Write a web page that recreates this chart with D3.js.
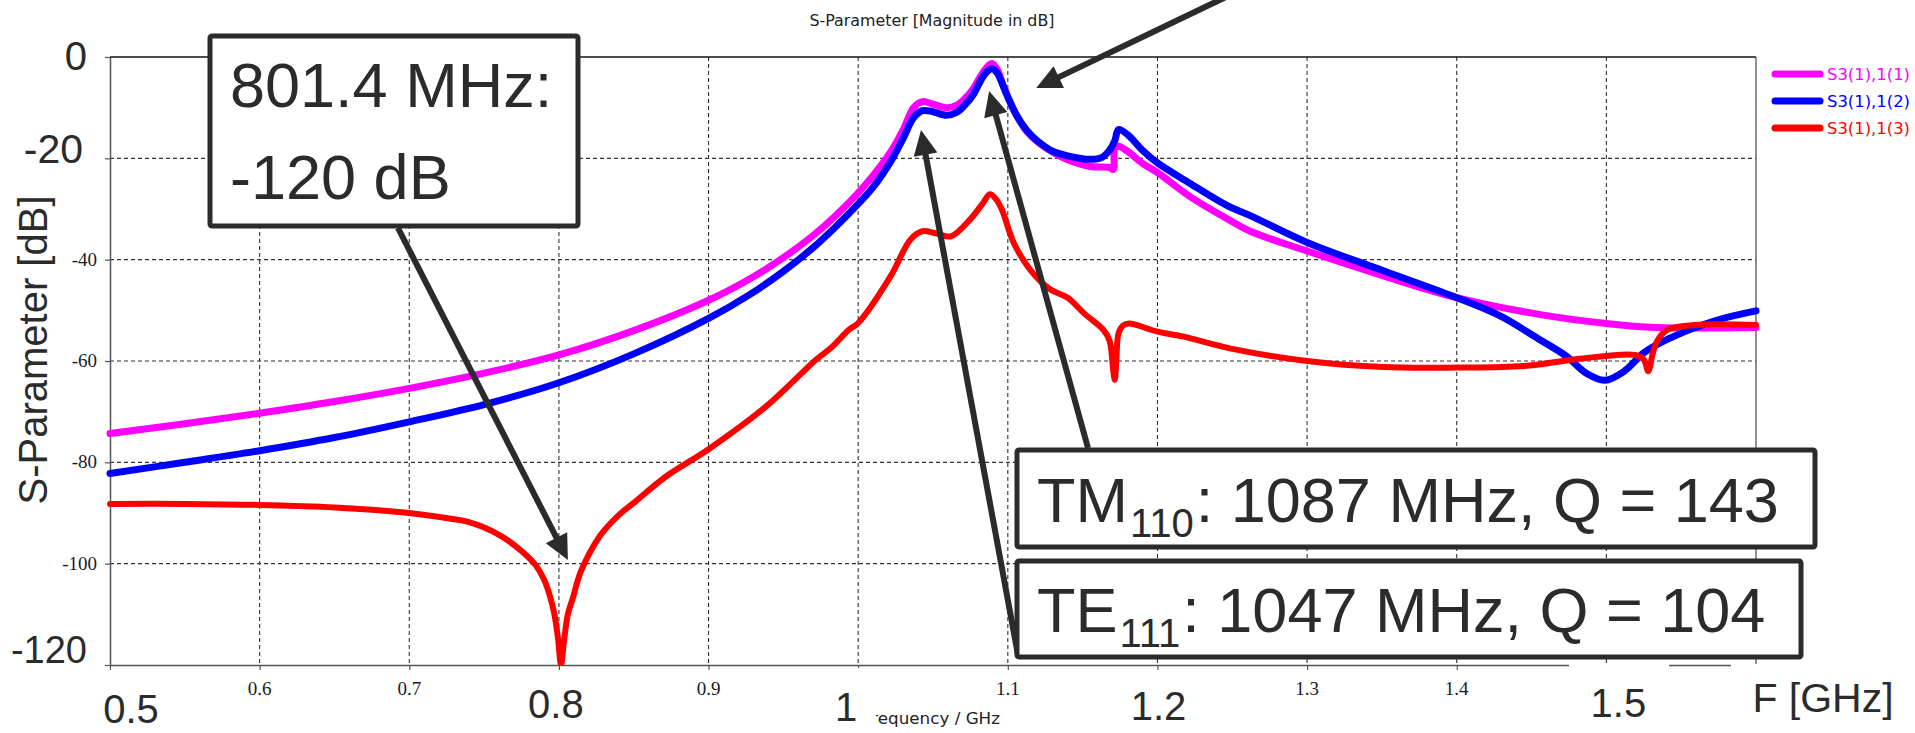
<!DOCTYPE html>
<html>
<head>
<meta charset="utf-8">
<script src="https://cdn.jsdelivr.net/npm/d3@7"></script>
<style>
  html, body { margin: 0; padding: 0; background: #fff; }
  svg { display: block; }
</style>
</head>
<body>
<svg id="chart" width="1915" height="733"></svg>
<script>
// ---------------- DATA ----------------
const chartTitle = "S-Parameter [Magnitude in dB]";
const xAxisTitle = "Frequency / GHz";
const yAxisTitle = "S-Parameter [dB]";
const seriesNames = ["S3(1),1(1)", "S3(1),1(2)", "S3(1),1(3)"];
const seriesColors = ["#ff00ff", "#0000ff", "#ff0000"];

const xTickValues = [0.5, 0.6, 0.7, 0.8, 0.9, 1.0, 1.1, 1.2, 1.3, 1.4, 1.5, 1.6];
const xSmallLabels = [[0.6, "0.6"], [0.7, "0.7"], [0.9, "0.9"], [1.1, "1.1"], [1.3, "1.3"], [1.4, "1.4"]];
const xBigLabels = [[0.5, "0.5"], [0.8, "0.8"], [1.0, "1"], [1.2, "1.2"], [1.5, "1.5"]];
const xUnitLabel = "F [GHz]";
const yTickValues = [0, -20, -40, -60, -80, -100, -120];
const ySmallLabels = [[-40, "-40"], [-60, "-60"], [-80, "-80"], [-100, "-100"]];
const yBigLabels = [[0, "0"], [-20, "-20"], [-120, "-120"]];

// S3(1),1(1) – magenta
const s11Freq = [0.50,0.55,0.60,0.65,0.70,0.75,0.80,0.85,0.90,0.928,0.95,0.97,0.985,1.000,1.010,1.022,1.030,1.037,1.043,1.050,1.059,1.066,1.071,1.077,1.082,1.086,1.0895,1.093,1.097,1.101,1.106,1.113,1.120,1.130,1.140,1.155,1.168,1.1705,1.1715,1.174,1.180,1.190,1.200,1.221,1.247,1.262,1.300,1.351,1.400,1.455,1.500,1.533,1.600];
const s11Db   = [-74.3,-72.4,-70.3,-68.0,-65.4,-62.4,-58.8,-54.0,-48.0,-43.7,-39.6,-35.2,-31.3,-26.8,-23.4,-18.6,-14.4,-10.0,-8.8,-9.3,-10.0,-9.5,-8.3,-6.2,-3.7,-2.0,-1.3,-2.5,-5.7,-8.5,-11.6,-14.8,-16.8,-18.8,-20.3,-21.6,-21.8,-22.2,-18.0,-17.6,-18.6,-21.0,-22.8,-27.4,-32.0,-34.4,-38.3,-43.2,-47.5,-50.8,-52.6,-53.4,-53.4];

// S3(1),1(2) – blue
const s12Freq = [0.50,0.55,0.60,0.65,0.70,0.75,0.80,0.85,0.90,0.928,0.95,0.97,0.985,1.000,1.010,1.022,1.030,1.037,1.043,1.050,1.059,1.066,1.071,1.077,1.082,1.086,1.0895,1.093,1.097,1.101,1.106,1.113,1.120,1.130,1.140,1.155,1.163,1.168,1.1715,1.174,1.180,1.190,1.200,1.221,1.247,1.262,1.300,1.351,1.400,1.429,1.455,1.473,1.486,1.499,1.512,1.525,1.541,1.572,1.600];
const s12Db   = [-82.2,-80.0,-77.7,-75.1,-72.0,-68.6,-64.3,-58.6,-51.6,-46.8,-42.3,-37.6,-33.5,-29.0,-25.7,-20.5,-16.1,-12.0,-10.6,-10.8,-11.5,-10.9,-9.6,-7.4,-4.6,-2.9,-2.3,-3.2,-5.8,-8.6,-11.6,-14.6,-16.6,-18.6,-19.5,-20.2,-19.8,-18.4,-16.5,-14.3,-15.3,-18.4,-20.9,-24.8,-29.4,-31.3,-36.6,-42.2,-47.5,-51.1,-55.7,-59.0,-62.3,-63.8,-62.0,-58.4,-55.7,-52.1,-50.1];

// S3(1),1(3) – red
const s13Freq = [0.50,0.55,0.60,0.65,0.70,0.72,0.74,0.76,0.775,0.785,0.79,0.794,0.797,0.7995,0.8014,0.8035,0.806,0.8097,0.812,0.815,0.8275,0.8386,0.85,0.872,0.90,0.9387,0.972,0.9815,0.994,1.000,1.0216,1.035,1.043,1.052,1.062,1.075,1.083,1.088,1.092,1.096,1.104,1.115,1.1285,1.140,1.151,1.164,1.168,1.1705,1.1715,1.1725,1.174,1.177,1.181,1.200,1.2175,1.250,1.300,1.351,1.400,1.445,1.481,1.519,1.525,1.528,1.531,1.534,1.541,1.559,1.600];
const s13Db   = [-88.2,-88.2,-88.4,-88.9,-90.0,-90.8,-91.8,-94.3,-97.5,-100.5,-103.1,-106.4,-110.0,-115.0,-120.0,-115.0,-110.0,-106.4,-103.9,-101.3,-94.5,-90.8,-88.0,-82.7,-77.4,-68.9,-59.7,-57.5,-53.8,-52.5,-43.3,-36.0,-34.4,-34.8,-35.4,-32.0,-29.0,-27.1,-28.0,-30.1,-36.7,-42.0,-45.9,-47.5,-50.6,-53.9,-56.0,-62.0,-63.7,-60.0,-54.5,-53.0,-52.6,-54.2,-55.2,-57.6,-60.0,-61.2,-61.3,-61.0,-59.6,-58.8,-59.7,-62.0,-58.5,-56.0,-53.8,-52.9,-52.9];

// annotations
const noteDip = ["801.4 MHz:", "-120 dB"];
const noteTM = ["TM", "110", ": 1087 MHz, Q = 143"];
const noteTE = ["TE", "111", ": 1047 MHz, Q = 104"];

// ---------------- DRAW ----------------
const svg = d3.select("#chart");
const ink = "#2b2b2b";
const x = d3.scaleLinear().domain([0.5, 1.6]).range([110, 1756]);
const y = d3.scaleLinear().domain([-120, 0]).range([665, 57]);

svg.append("defs").append("clipPath").attr("id", "clip")
  .append("rect").attr("x", 0).attr("y", 0).attr("width", 1915).attr("height", 665);

// title
svg.append("text").attr("x", 932).attr("y", 26).attr("text-anchor", "middle")
  .attr("font-family", "'DejaVu Sans Condensed','DejaVu Sans',sans-serif").attr("font-size", 15)
  .attr("textLength", 245).attr("lengthAdjust", "spacingAndGlyphs").attr("fill", "#222")
  .text(chartTitle);

// grid
const grid = svg.append("g").attr("stroke", "#333").attr("stroke-width", 1.1).attr("stroke-dasharray", "4,3");
grid.selectAll("line.v").data(xTickValues.slice(1, -1)).join("line")
  .attr("x1", d => x(d)).attr("x2", d => x(d)).attr("y1", y(0)).attr("y2", y(-120));
grid.selectAll("line.h").data(yTickValues.slice(1, -1)).join("line").attr("class", "h")
  .attr("x1", x(0.5)).attr("x2", x(1.6)).attr("y1", d => y(d)).attr("y2", d => y(d));

// axes (ticks + domain)
const xAxis = d3.axisBottom(x).tickValues(xTickValues).tickSize(5).tickSizeOuter(0).tickFormat("");
const gx = svg.append("g").attr("transform", `translate(0,${y(-120)})`).call(xAxis);
const yAxis = d3.axisLeft(y).tickValues(yTickValues).tickSize(5).tickSizeOuter(0).tickFormat("");
const gy = svg.append("g").attr("transform", `translate(${x(0.5)},0)`).call(yAxis);
[gx, gy].forEach(g => {
  g.select(".domain").attr("stroke", "#555").attr("stroke-width", 1.5);
  g.selectAll(".tick line").attr("stroke", "#555").attr("stroke-width", 1.2);
});
// frame: top + right
svg.append("line").attr("x1", x(0.5)).attr("x2", x(1.6)).attr("y1", y(0)).attr("y2", y(0))
  .attr("stroke", "#111").attr("stroke-width", 1.6);
svg.append("line").attr("x1", x(1.6)).attr("x2", x(1.6)).attr("y1", y(0)).attr("y2", y(-120))
  .attr("stroke", "#555").attr("stroke-width", 1.3);

// small tick labels
svg.append("g").selectAll("text").data(xSmallLabels).join("text")
  .attr("x", d => x(d[0])).attr("y", 695).attr("text-anchor", "middle")
  .attr("font-family", "'Liberation Serif',serif").attr("font-size", 19).attr("fill", "#1a1a2a")
  .text(d => d[1]);
svg.append("g").selectAll("text").data(ySmallLabels).join("text")
  .attr("x", 97).attr("y", d => y(d[0]) + 6).attr("text-anchor", "end")
  .attr("font-family", "'Liberation Serif',serif").attr("font-size", 19).attr("fill", "#1a1a2a")
  .text(d => d[1]);

// x axis title (partly covered by big "1" label)
svg.append("text").attr("x", 863).attr("y", 724)
  .attr("font-family", "'DejaVu Sans Condensed','DejaVu Sans',sans-serif").attr("font-size", 15)
  .attr("textLength", 137).attr("lengthAdjust", "spacingAndGlyphs").attr("fill", "#222")
  .text(xAxisTitle);

// curves
const seriesData = [
  s11Freq.map((f, i) => [f, s11Db[i]]),
  s12Freq.map((f, i) => [f, s12Db[i]]),
  s13Freq.map((f, i) => [f, s13Db[i]])
];
const widths = [7, 7, 6];
const line = d3.line().x(d => x(d[0])).y(d => y(d[1])).curve(d3.curveCatmullRom.alpha(0.5));
const curves = svg.append("g").attr("clip-path", "url(#clip)");
seriesData.forEach((data, i) => {
  curves.append("path").datum(data).attr("d", line).attr("fill", "none")
    .attr("stroke", seriesColors[i]).attr("stroke-width", widths[i])
    .attr("stroke-linejoin", "round").attr("stroke-linecap", "round");
});

// legend
const legendY = [74, 101, 128];
const lg = svg.append("g");
seriesNames.forEach((name, i) => {
  lg.append("line").attr("x1", 1775).attr("x2", 1820).attr("y1", legendY[i]).attr("y2", legendY[i])
    .attr("stroke", seriesColors[i]).attr("stroke-width", 7).attr("stroke-linecap", "round");
  lg.append("text").attr("x", 1827).attr("y", legendY[i] + 6)
    .attr("font-family", "'DejaVu Sans Condensed','DejaVu Sans',sans-serif").attr("font-size", 16)
    .attr("textLength", 83).attr("lengthAdjust", "spacingAndGlyphs")
    .attr("fill", seriesColors[i]).text(name);
});

// white label backgrounds + big axis labels
const bigFont = "'Liberation Sans',Arial,sans-serif";
const bgs = [[830, 668, 46, 65], [1569, 664, 100, 69], [1731, 664, 184, 69]];
svg.append("g").selectAll("rect").data(bgs).join("rect")
  .attr("x", d => d[0]).attr("y", d => d[1]).attr("width", d => d[2]).attr("height", d => d[3]).attr("fill", "#fff");
const xBigOffset = {"0.5": 21, "0.8": -3, "1": -12, "1.2": 1, "1.5": 12};
const xBigBase = {"0.5": 723, "0.8": 718, "1": 721, "1.2": 720, "1.5": 717};
svg.append("g").selectAll("text").data(xBigLabels).join("text")
  .attr("x", d => x(d[0]) + xBigOffset[d[1]]).attr("y", d => xBigBase[d[1]]).attr("text-anchor", "middle")
  .attr("font-family", bigFont).attr("font-size", 40).attr("fill", ink).text(d => d[1]);
svg.append("text").attr("x", 1823).attr("y", 712).attr("text-anchor", "middle")
  .attr("font-family", bigFont).attr("font-size", 41).attr("fill", ink).text(xUnitLabel);
const yBigX = {"0": 87, "-20": 83, "-120": 87};
const yBigBase = {"0": 70, "-20": 163, "-120": 663};
const yBigSize = {"0": 40, "-20": 41, "-120": 38};
svg.append("g").selectAll("text").data(yBigLabels).join("text")
  .attr("x", d => yBigX[d[1]]).attr("y", d => yBigBase[d[1]]).attr("text-anchor", "end")
  .attr("font-family", bigFont).attr("font-size", d => yBigSize[d[1]]).attr("fill", ink).text(d => d[1]);
svg.append("text").attr("transform", "translate(47,350) rotate(-90)").attr("text-anchor", "middle")
  .attr("font-family", bigFont).attr("font-size", 40).attr("fill", ink).text(yAxisTitle);

// arrows
function arrow(x1, y1, x2, y2) {
  const dx = x2 - x1, dy = y2 - y1, L = Math.hypot(dx, dy);
  const ux = dx / L, uy = dy / L, hl = 25, hw = 12;
  const bx = x2 - ux * hl, by = y2 - uy * hl;
  svg.append("line").attr("x1", x1).attr("y1", y1).attr("x2", bx + ux * 4).attr("y2", by + uy * 4)
    .attr("stroke", ink).attr("stroke-width", 6);
  svg.append("polygon").attr("fill", ink)
    .attr("points", `${x2},${y2} ${bx - uy * hw},${by + ux * hw} ${bx + uy * hw},${by - ux * hw}`);
}
arrow(398, 228, x(0.806), 560);
arrow(1088, 448, x(1.0875), 91);
arrow(1018, 655, x(1.042), 130);
arrow(1228, -4, x(1.119), 88);

// boxes
function box(x0, y0, w, h) {
  svg.append("rect").attr("x", x0).attr("y", y0).attr("width", w).attr("height", h)
    .attr("fill", "#fff").attr("stroke", ink).attr("stroke-width", 5).attr("rx", 2);
}
box(210, 36, 368, 190);
box(1017, 450, 798, 97);
box(1017, 561, 784, 96);

const annoFont = bigFont;
svg.append("text").attr("x", 230).attr("y", 107).attr("font-family", annoFont).attr("font-size", 63)
  .attr("fill", ink).text(noteDip[0]);
svg.append("text").attr("x", 230).attr("y", 199).attr("font-family", annoFont).attr("font-size", 63)
  .attr("fill", ink).text(noteDip[1]);

function modeText(parts, x0, base) {
  const t = svg.append("text").attr("x", x0).attr("y", base).attr("font-family", annoFont)
    .attr("font-size", 63).attr("fill", ink);
  t.append("tspan").text(parts[0]);
  t.append("tspan").attr("font-size", 40).attr("dy", 15).attr("dx", 2).text(parts[1]);
  t.append("tspan").attr("dy", -15).attr("dx", 2).text(parts[2]);
}
modeText(noteTM, 1037, 522);
modeText(noteTE, 1037, 632);
</script>
</body>
</html>
